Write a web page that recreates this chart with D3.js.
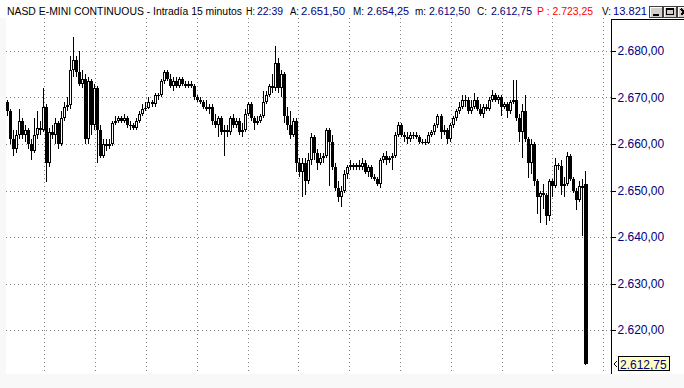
<!DOCTYPE html>
<html>
<head>
<meta charset="utf-8">
<script src="https://cdn.jsdelivr.net/npm/d3@7"></script>
<style>
  body { margin: 0; background: #f8f8f8; }
  svg { display: block; font-family: "Liberation Sans", Arial, sans-serif; }
</style>
</head>
<body>
<script>
// NASD E-MINI, 15 minute candles
var opens = [
  2669, 2667, 2661, 2659, 2662, 2665, 2662, 2663, 2660, 2658.5,
  2662, 2663.5, 2663, 2668, 2656, 2662.5, 2662, 2664.5, 2660, 2665.5,
  2668, 2668.3, 2676, 2678, 2675.5, 2673, 2674, 2661, 2673.5, 2664,
  2672, 2663, 2657.5, 2660, 2659.5, 2660, 2664.5, 2665, 2665.5, 2665,
  2665.5, 2664, 2664, 2663.5, 2665, 2666.5, 2667.5, 2667.8, 2669, 2668.5,
  2670.5, 2670.5, 2673.5, 2675.5, 2674, 2672.5, 2673.5, 2672.5, 2674, 2673,
  2672.5, 2673, 2672.5, 2670, 2669.5, 2669, 2668, 2667.5, 2668, 2665,
  2664, 2665.5, 2662.5, 2663, 2662.5, 2665.5, 2664, 2665, 2662.5, 2663,
  2666.5, 2668.5, 2665.5, 2664.5, 2665, 2666, 2669, 2670.5, 2672.5, 2672,
  2677.5, 2672, 2675, 2666, 2664, 2662, 2665, 2656, 2654, 2656,
  2652, 2656.5, 2661.5, 2658, 2656, 2657, 2657.5, 2663, 2660.5, 2655,
  2650.5, 2648.5, 2650, 2653.5, 2655, 2655.5, 2655, 2655.5, 2655, 2656,
  2654, 2655, 2653, 2652.5, 2651.5, 2656.5, 2657.5, 2656.5, 2657, 2657.5,
  2662, 2664, 2662, 2661.5, 2661, 2662, 2662, 2661.5, 2660.5, 2660.5,
  2660.3, 2662, 2662.5, 2664, 2666, 2662.5, 2663, 2661, 2664, 2665.5,
  2667, 2668, 2669.5, 2669.5, 2667, 2668, 2669.5, 2667.5, 2666.5, 2668,
  2667.5, 2669.5, 2670.5, 2669.5, 2670, 2668, 2668.5, 2667, 2669, 2669.5,
  2665.5, 2662.5, 2667, 2661, 2656, 2660, 2652, 2648.5, 2649.5, 2649,
  2644.5, 2652, 2651, 2655.5, 2655.3, 2651, 2651.5, 2657.5, 2652.5, 2650,
  2648, 2651, 2651.5
];
var closes = [
  2667, 2661, 2659, 2662, 2665, 2662, 2663, 2660, 2658.5, 2662,
  2663.5, 2663, 2668, 2656, 2662.5, 2662, 2664.5, 2660, 2665.5, 2668,
  2668.3, 2676, 2678, 2675.5, 2673, 2674, 2661, 2673.5, 2664, 2672,
  2663, 2657.5, 2660, 2659.5, 2660, 2664.5, 2665, 2665.5, 2665, 2665.5,
  2664, 2664, 2663.5, 2665, 2666.5, 2667.5, 2667.8, 2669, 2668.5, 2670.5,
  2670.5, 2673.5, 2675.5, 2674, 2672.5, 2673.5, 2672.5, 2674, 2673, 2672.5,
  2673, 2672.5, 2670, 2669.5, 2669, 2668, 2667.5, 2668, 2665, 2664,
  2665.5, 2662.5, 2663, 2662.5, 2665.5, 2664, 2665, 2662.5, 2663, 2666.5,
  2668.5, 2665.5, 2664.5, 2665, 2666, 2669, 2670.5, 2672.5, 2672, 2677.5,
  2672, 2675, 2666, 2664, 2662, 2665, 2656, 2654, 2656, 2652,
  2656.5, 2661.5, 2658, 2656, 2657, 2657.5, 2663, 2660.5, 2655, 2650.5,
  2648.5, 2650, 2653.5, 2655, 2655.5, 2655, 2655.5, 2655, 2656, 2654,
  2655, 2653, 2652.5, 2651.5, 2656.5, 2657.5, 2656.5, 2657, 2657.5, 2662,
  2664, 2662, 2661.5, 2661, 2662, 2662, 2661.5, 2660.5, 2660.5, 2660.3,
  2662, 2662.5, 2664, 2666, 2662.5, 2663, 2661, 2664, 2665.5, 2667,
  2668, 2669.5, 2669.5, 2667, 2668, 2669.5, 2667.5, 2666.5, 2668, 2667.5,
  2669.5, 2670.5, 2669.5, 2670, 2668, 2668.5, 2667, 2669, 2669.5, 2665.5,
  2662.5, 2667, 2661, 2656, 2660, 2652, 2648.5, 2649.5, 2649, 2644.5,
  2652, 2651, 2655.5, 2655.3, 2651, 2651.5, 2657.5, 2652.5, 2650, 2648,
  2651, 2650.5, 2612.75
];
var highs = [
  2669.5, 2667.5, 2663, 2663, 2667.5, 2665.5, 2664, 2663.5, 2661, 2665.5,
  2667, 2665, 2672, 2668.5, 2663.5, 2664, 2665.5, 2665, 2667, 2669,
  2670, 2679, 2683, 2679, 2680, 2676, 2675, 2674.5, 2674, 2673,
  2672.5, 2664, 2661, 2661, 2661, 2665, 2666, 2666, 2666, 2666.5,
  2666, 2665, 2664.5, 2665.5, 2667, 2668.5, 2669, 2670, 2669.5, 2671,
  2671, 2674, 2676, 2676, 2675, 2674.5, 2674.5, 2674.5, 2674.5, 2673.5,
  2673.5, 2673.5, 2673, 2670.5, 2670, 2669.5, 2669.5, 2668.5, 2668.5, 2666.5,
  2666, 2666, 2664, 2664, 2666, 2666.5, 2665.5, 2665.5, 2664.5, 2667.5,
  2669, 2669, 2666, 2666, 2666.5, 2671.5, 2671.5, 2673, 2675, 2681,
  2678.5, 2676, 2675.5, 2668, 2667, 2665.5, 2665.5, 2657, 2657, 2657,
  2658, 2662.3, 2662, 2659, 2658, 2658, 2663.5, 2663.5, 2662, 2656,
  2652, 2651, 2654.5, 2655.5, 2656.5, 2656, 2656, 2656.5, 2657, 2656.5,
  2655.5, 2655.5, 2653.5, 2653, 2657, 2658, 2658.5, 2657.5, 2658, 2662.5,
  2664.7, 2664.5, 2662.5, 2662.5, 2662.5, 2662.5, 2662.5, 2662, 2661, 2661,
  2662.5, 2663, 2664.5, 2666.5, 2666.5, 2664, 2663.5, 2664.5, 2666, 2667.5,
  2669, 2670.5, 2670.5, 2670, 2669.5, 2671, 2670, 2668.5, 2668.5, 2668.5,
  2670, 2671.6, 2671, 2670.5, 2670.5, 2669, 2669, 2669.5, 2673.7, 2673.7,
  2666.5, 2668.5, 2670.5, 2661.5, 2661, 2660.5, 2652.5, 2650, 2651.5, 2649.5,
  2652.5, 2652.5, 2657, 2656, 2656.5, 2653, 2658.2, 2657.8, 2653, 2650.5,
  2652, 2652.5, 2654.25
];
var lows = [
  2666, 2660, 2657.5, 2658, 2661, 2661, 2660.5, 2659, 2656.5, 2658,
  2661, 2662, 2662.5, 2651.8, 2655, 2661, 2660, 2659, 2659.5, 2665,
  2667, 2667.5, 2674.5, 2674.5, 2672.5, 2672, 2660, 2660, 2662, 2663,
  2656, 2657, 2657, 2658.5, 2659, 2659.5, 2664, 2664.5, 2664.5, 2664.5,
  2663.5, 2663, 2663, 2663, 2664.5, 2666, 2667, 2667.5, 2668, 2668,
  2669.5, 2670, 2673, 2673.5, 2672, 2671.5, 2672, 2672, 2672.5, 2672,
  2672, 2672, 2669.5, 2669, 2668.5, 2667.5, 2667, 2666.5, 2664, 2663.5,
  2661.5, 2662, 2657.5, 2661.5, 2662, 2663.5, 2663.5, 2662, 2661.5, 2662.5,
  2666, 2665, 2663, 2664, 2664.5, 2665.5, 2668.5, 2670, 2671, 2671.5,
  2671, 2670, 2664.5, 2663, 2661, 2661.5, 2654, 2652.8, 2648.5, 2649,
  2651.5, 2655.5, 2656.5, 2654.5, 2655.5, 2656, 2657, 2651, 2654.5, 2650,
  2647.5, 2646.5, 2649.5, 2652.5, 2654.5, 2654.5, 2654.5, 2654.5, 2654.5, 2653.5,
  2653, 2652.5, 2652, 2651, 2650.5, 2656, 2655.5, 2656, 2654.5, 2657,
  2661.5, 2661.5, 2660.5, 2660, 2660.5, 2661, 2661, 2660, 2660, 2659.8,
  2660, 2661.5, 2662, 2663.5, 2661, 2662, 2660, 2660.5, 2663.5, 2665,
  2666.5, 2667.5, 2668, 2666.5, 2666.5, 2667.5, 2667, 2666, 2665.5, 2667,
  2667, 2669, 2669, 2668.5, 2666, 2667.5, 2665.5, 2666.5, 2668.5, 2665,
  2660.5, 2657, 2660.5, 2652.6, 2653.5, 2651, 2645, 2643, 2646, 2642.5,
  2643.5, 2648.5, 2650.5, 2654.5, 2649, 2648.5, 2651, 2652, 2649.5, 2645.7,
  2647.5, 2640.3, 2612.5
];

var yTicks = [2620, 2630, 2640, 2650, 2660, 2670, 2680];
// vertical grid, in candle index units
var gridIdx = [12.3, 29.2, 46.2, 63.1, 80, 96.6, 113.6, 130.7, 147.6, 164.5, 181.1, 198];

var lastTime = "22:39";
var prevValue = 2723.25;
var volume = "13.821";

var W = 684, H = 388;
var plotL = 6, plotR = 611, plotT = 18, plotB = 374;
var navy = "#000080";

var es = d3.formatLocale({decimal: ",", thousands: ".", grouping: [3], currency: ["", ""]});
var fmt = es.format(",.2f");

var svg = d3.select("body").append("svg")
  .attr("width", W)
  .attr("height", H);

// backgrounds
svg.append("rect").attr("x", 0).attr("y", 0).attr("width", W).attr("height", H).attr("fill", "#f8f8f8");
svg.append("rect").attr("x", 0).attr("y", 0).attr("width", W).attr("height", plotT).attr("fill", "#ffffff");
svg.append("rect").attr("x", plotL).attr("y", plotT).attr("width", W - plotL).attr("height", plotB - plotT).attr("fill", "#ffffff");

var n = closes.length;
var x = d3.scaleLinear().domain([0, n - 1]).range([7, 585]);
var y = d3.scaleLinear().domain([2620, 2680]).range([330, 51]);

// grid
var grid = svg.append("g")
  .attr("stroke", "#808080")
  .attr("stroke-dasharray", "1,3")
  .attr("shape-rendering", "crispEdges");

grid.selectAll("line.v")
  .data(gridIdx)
  .enter()
  .append("line")
  .attr("x1", function(d) { return Math.round(x(d)) + 0.5; })
  .attr("x2", function(d) { return Math.round(x(d)) + 0.5; })
  .attr("y1", plotT)
  .attr("y2", plotB);

grid.selectAll("line.h")
  .data(yTicks)
  .enter()
  .append("line")
  .attr("x1", plotL)
  .attr("x2", plotR)
  .attr("y1", function(d) { return Math.round(y(d)) + 0.5; })
  .attr("y2", function(d) { return Math.round(y(d)) + 0.5; });

// candles
var idx = d3.range(n);
var candles = svg.append("g").attr("shape-rendering", "crispEdges");

candles.selectAll("rect.wick")
  .data(idx)
  .enter()
  .append("rect")
  .attr("x", function(i) { return Math.round(x(i)); })
  .attr("width", 1)
  .attr("y", function(i) { return Math.round(y(highs[i])); })
  .attr("height", function(i) { return Math.max(1, Math.round(y(lows[i])) - Math.round(y(highs[i]))); })
  .attr("fill", "#000");

function bodyTop(i) { return Math.round(y(Math.max(opens[i], closes[i]))); }
function bodyH(i) { return Math.max(1, Math.round(y(Math.min(opens[i], closes[i]))) - bodyTop(i)); }
// the final bar is drawn with a heavier pen
function bodyW(i) { return i === n - 1 ? 4 : 3; }

candles.selectAll("rect.body")
  .data(idx)
  .enter()
  .append("rect")
  .attr("x", function(i) { return Math.round(x(i)) - 1; })
  .attr("width", bodyW)
  .attr("y", bodyTop)
  .attr("height", bodyH)
  .attr("fill", "#000");

// hollow up candles
candles.selectAll("rect.up")
  .data(idx.filter(function(i) { return closes[i] > opens[i] && bodyH(i) > 2; }))
  .enter()
  .append("rect")
  .attr("x", function(i) { return Math.round(x(i)); })
  .attr("width", 1)
  .attr("y", function(i) { return bodyTop(i) + 1; })
  .attr("height", function(i) { return bodyH(i) - 2; })
  .attr("fill", "#fff");

// price axis
svg.append("line")
  .attr("x1", plotR + 0.5).attr("x2", plotR + 0.5)
  .attr("y1", 19).attr("y2", plotB)
  .attr("stroke", "#000");
svg.append("line")
  .attr("x1", plotR).attr("x2", W)
  .attr("y1", 19.5).attr("y2", 19.5)
  .attr("stroke", "#000");

var axis = svg.append("g")
  .attr("transform", "translate(" + (plotR + 0.5) + ",0)")
  .call(d3.axisRight(y).tickValues(yTicks).tickSize(4).tickSizeOuter(0).tickPadding(2).tickFormat(fmt));
axis.select(".domain").remove();
axis.selectAll(".tick line").attr("stroke", "#000").attr("shape-rendering", "crispEdges");
axis.selectAll(".tick text")
  .attr("fill", navy)
  .attr("font-size", 12)
  .attr("font-family", "'Liberation Sans', Arial, sans-serif");

// last value marker
var last = closes[n - 1];
var ly = Math.round(y(last));
svg.append("path")
  .attr("d", "M617," + (ly - 3) + "L614," + ly + "L617," + (ly + 3))
  .attr("fill", "none")
  .attr("stroke", "#000");
svg.append("rect")
  .attr("x", 618.5).attr("y", ly - 7.5)
  .attr("width", 51).attr("height", 14)
  .attr("fill", "#ffffc0")
  .attr("stroke", "#000");
svg.append("text")
  .attr("x", 620).attr("y", ly + 4.5)
  .attr("font-size", 12)
  .attr("fill", navy)
  .text(fmt(last));

// header: [x, text, colour, width]
var header = [
  [7, "NASD E-MINI CONTINUOUS - Intradía 15 minutos", "#000", 235],
  [246, "H:", "#000", 9],
  [257, lastTime, navy, 26],
  [290, "A:", "#000", 9],
  [301, fmt(opens[n - 1]), navy, 44],
  [353, "M:", "#000", 11],
  [367, fmt(highs[n - 1]), navy, 42],
  [415, "m:", "#000", 11],
  [429, fmt(lows[n - 1]), navy, 41],
  [477, "C:", "#000", 10],
  [491, fmt(closes[n - 1]), navy, 41],
  [537, "P : " + fmt(prevValue), "#ff0000", 56],
  [602, "V:", "#000", 9],
  [613, volume, navy, 34]
];
svg.selectAll("text.hdr")
  .data(header)
  .enter()
  .append("text")
  .attr("x", function(d) { return d[0]; })
  .attr("y", 15)
  .attr("font-size", 10)
  .attr("textLength", function(d) { return d[3]; })
  .attr("lengthAdjust", "spacingAndGlyphs")
  .attr("fill", function(d) { return d[2]; })
  .text(function(d) { return d[1]; });

// window buttons
var btns = [649, 663, 677];
var b = svg.selectAll("g.btn")
  .data(btns)
  .enter()
  .append("g")
  .attr("transform", function(d) { return "translate(" + d + ",6)"; })
  .attr("shape-rendering", "crispEdges");
b.append("rect").attr("x", 0.5).attr("y", 0.5).attr("width", 13).attr("height", 11)
  .attr("fill", "#d4d0c8").attr("stroke", "#404040");
b.append("path").attr("d", "M1.5,10.5V1.5H12.5").attr("fill", "none").attr("stroke", "#fff");
b.filter(function(d, i) { return i === 0; })
  .append("rect").attr("x", 4).attr("y", 8).attr("width", 6).attr("height", 2).attr("fill", "#000");
b.filter(function(d, i) { return i === 1; })
  .append("rect").attr("x", 3.5).attr("y", 2.5).attr("width", 7).attr("height", 6)
  .attr("fill", "none").attr("stroke", "#000").attr("stroke-width", 1);
b.filter(function(d, i) { return i === 1; })
  .append("rect").attr("x", 3).attr("y", 2).attr("width", 8).attr("height", 2).attr("fill", "#000");
b.filter(function(d, i) { return i === 2; })
  .append("path").attr("d", "M4,3L10,9M10,3L4,9").attr("stroke", "#000").attr("stroke-width", 1.5);
</script>
</body>
</html>
